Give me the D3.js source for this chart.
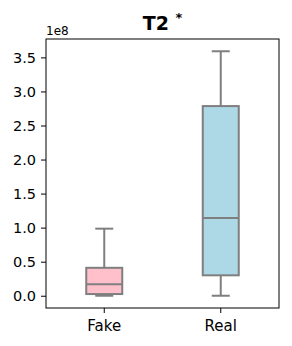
<!DOCTYPE html>
<html>
<head>
<meta charset="utf-8">
<script src="https://cdn.jsdelivr.net/npm/d3@7"></script>
<style>
  body { margin: 0; background: #fff; }
  text { font-family: "DejaVu Sans", sans-serif; }
</style>
</head>
<body>
<div class="chart"></div>
<script>
// values in units of 1e8
var categories = ["Fake", "Real"];
var boxColors = ["#ffc0cb", "#add8e6"];
var lowWhisker = [0.0, 0.0];
var q1 = [0.025, 0.30];
var median = [0.167, 1.14];
var q3 = [0.41, 2.785];
var highWhisker = [0.985, 3.59];
var yTicks = [0.0, 0.5, 1.0, 1.5, 2.0, 2.5, 3.0, 3.5];

var div_width = 292, div_height = 346;
var plotLeft = 46, plotRight = 279, plotTop = 39, plotBottom = 308;

var svg = d3.select(".chart").append("svg")
    .attr("width", div_width)
    .attr("height", div_height);

var x = d3.scaleBand().domain(categories).range([plotLeft, plotRight]);
var y = d3.scaleLinear().domain([-0.18, 3.77]).range([plotBottom, plotTop]);

var boxW = 36;
var capW = 18;
var grey = "#7f7f7f";

categories.forEach(function (c, i) {
    var cx = x(c) + x.bandwidth() / 2;
    var g = svg.append("g");
    // whiskers
    g.append("line").attr("x1", cx).attr("x2", cx)
        .attr("y1", y(q3[i])).attr("y2", y(highWhisker[i]))
        .attr("stroke", grey).attr("stroke-width", 2);
    g.append("line").attr("x1", cx).attr("x2", cx)
        .attr("y1", y(q1[i])).attr("y2", y(lowWhisker[i]))
        .attr("stroke", grey).attr("stroke-width", 2);
    g.append("line").attr("x1", cx - capW / 2).attr("x2", cx + capW / 2)
        .attr("y1", y(highWhisker[i])).attr("y2", y(highWhisker[i]))
        .attr("stroke", grey).attr("stroke-width", 2);
    g.append("line").attr("x1", cx - capW / 2).attr("x2", cx + capW / 2)
        .attr("y1", y(lowWhisker[i])).attr("y2", y(lowWhisker[i]))
        .attr("stroke", grey).attr("stroke-width", 2);
    // box
    g.append("rect")
        .attr("x", cx - boxW / 2).attr("width", boxW)
        .attr("y", y(q3[i])).attr("height", y(q1[i]) - y(q3[i]))
        .attr("fill", boxColors[i])
        .attr("stroke", grey).attr("stroke-width", 2);
    g.append("line").attr("x1", cx - boxW / 2).attr("x2", cx + boxW / 2)
        .attr("y1", y(median[i])).attr("y2", y(median[i]))
        .attr("stroke", grey).attr("stroke-width", 2);
});

// axes
var yAxis = svg.append("g")
    .attr("transform", "translate(" + plotLeft + ",0)")
    .call(d3.axisLeft(y).tickValues(yTicks).tickFormat(d3.format(".1f")).tickSize(5).tickPadding(5));
yAxis.selectAll("text").style("font-size", "14.5px").attr("fill", "#000");
yAxis.select(".domain").remove();
yAxis.selectAll("line").attr("stroke", "#000");

var xAxis = svg.append("g")
    .attr("transform", "translate(0," + plotBottom + ")")
    .call(d3.axisBottom(x).tickSize(5).tickPadding(7));
xAxis.selectAll("text").style("font-size", "15px").attr("fill", "#000");
xAxis.select(".domain").remove();
xAxis.selectAll("line").attr("stroke", "#000");

svg.append("rect")
    .attr("x", plotLeft).attr("y", plotTop)
    .attr("width", plotRight - plotLeft).attr("height", plotBottom - plotTop)
    .attr("fill", "none").attr("stroke", "#000").attr("stroke-width", 1);

// offset label
svg.append("text").attr("x", plotLeft).attr("y", 35)
    .style("font-size", "12px").text("1e8");

// title
var title = svg.append("text")
    .attr("x", (plotLeft + plotRight) / 2).attr("y", 30)
    .attr("text-anchor", "middle");
title.append("tspan").style("font-size", "19px").style("font-weight", "bold").text("T2 ");
title.append("tspan").style("font-size", "13px").style("font-weight", "bold").attr("dy", -8).text("*");
</script>
</body>
</html>
